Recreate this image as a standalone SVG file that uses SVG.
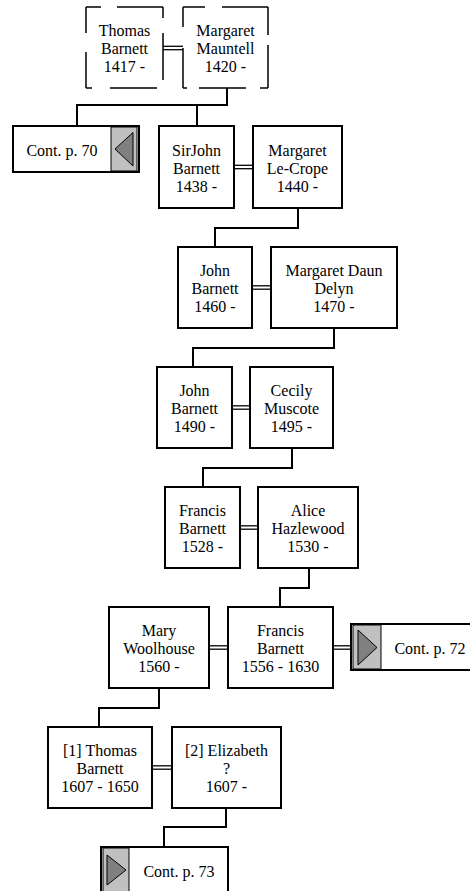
<svg xmlns="http://www.w3.org/2000/svg" width="470" height="891" viewBox="0 0 470 891">
<style>
.box{fill:#fff;stroke:#000;stroke-width:2}
.dash{fill:none;stroke:#000;stroke-width:1.5}
.t{font-family:"Liberation Serif","Times New Roman",serif;font-size:16px;fill:#000;text-anchor:middle}
.conn{fill:none;stroke:#000;stroke-width:2}
.dbl{stroke:#000;stroke-width:1.3}
.grey{fill:#c0c0c0;stroke:#000;stroke-width:1}
.tri{fill:#808080;stroke:#000;stroke-width:1}
</style>
<rect width="470" height="891" fill="#fff"/>
<g id="connectors">
<path class="conn" d="M227,88V105H77V126M197,105V126"/>
<path class="conn" d="M298,208V228H215V247"/>
<path class="conn" d="M334,328V348H193V367"/>
<path class="conn" d="M292,448V468H203V487"/>
<path class="conn" d="M309,568V588H280V607"/>
<path class="conn" d="M159,688V708H99V727"/>
<path class="conn" d="M226,808V827H164V847"/>
<g class="dbl">
<line x1="163" y1="46.3" x2="183" y2="46.3"/><line x1="163" y1="49.7" x2="183" y2="49.7"/>
<line x1="234" y1="165.3" x2="253" y2="165.3"/><line x1="234" y1="168.7" x2="253" y2="168.7"/>
<line x1="252" y1="285.8" x2="271" y2="285.8"/><line x1="252" y1="289.2" x2="271" y2="289.2"/>
<line x1="232" y1="405.8" x2="250" y2="405.8"/><line x1="232" y1="409.2" x2="250" y2="409.2"/>
<line x1="240" y1="525.8" x2="258" y2="525.8"/><line x1="240" y1="529.2" x2="258" y2="529.2"/>
<line x1="209" y1="645.8" x2="228" y2="645.8"/><line x1="209" y1="649.2" x2="228" y2="649.2"/>
<line x1="333" y1="645.8" x2="351" y2="645.8"/><line x1="333" y1="649.2" x2="351" y2="649.2"/>
<line x1="152" y1="765.8" x2="172" y2="765.8"/><line x1="152" y1="769.2" x2="172" y2="769.2"/>
</g>
</g>
<g id="thomas1417">
<path class="dash" d="M86,7H101M117,7H163M163,7V18M163,33V80M86,88H92M110,88H157M86,7V33M86,52V88"/>
<text class="t" x="124.5" y="36">Thomas</text><text class="t" x="124.5" y="54">Barnett</text><text class="t" x="124.5" y="72">1417 -</text>
</g>
<g id="margaret1420">
<path class="dash" d="M183,7H205M222,7H268M268,7V35M268,45V88M183,88H187M199,88H246M260,88H268M183,7V27M183,48V88"/>
<text class="t" x="225.5" y="36">Margaret</text><text class="t" x="225.5" y="54">Mauntell</text><text class="t" x="225.5" y="72">1420 -</text>
</g>
<g id="cont70">
<rect class="box" x="13" y="126" width="126" height="46"/>
<rect class="grey" x="111" y="127" width="26" height="44"/>
<polygon class="tri" points="115,149 133,132.5 133,166"/>
<text class="t" x="62" y="155.5">Cont. p. 70</text>
</g>
<g id="sirjohn1438">
<rect class="box" x="159" y="126" width="75" height="82"/>
<text class="t" x="196.5" y="155.5">SirJohn</text><text class="t" x="196.5" y="173.5">Barnett</text><text class="t" x="196.5" y="191.5">1438 -</text>
</g>
<g id="margaret1440">
<rect class="box" x="253" y="126" width="89" height="82"/>
<text class="t" x="297.5" y="155.5">Margaret</text><text class="t" x="297.5" y="173.5">Le-Crope</text><text class="t" x="297.5" y="191.5">1440 -</text>
</g>
<g id="john1460">
<rect class="box" x="178" y="247" width="74" height="81"/>
<text class="t" x="215" y="276">John</text><text class="t" x="215" y="294">Barnett</text><text class="t" x="215" y="312">1460 -</text>
</g>
<g id="margaret1470">
<rect class="box" x="271" y="247" width="126" height="81"/>
<text class="t" x="334" y="276">Margaret Daun</text><text class="t" x="334" y="294">Delyn</text><text class="t" x="334" y="312">1470 -</text>
</g>
<g id="john1490">
<rect class="box" x="157" y="367" width="75" height="81"/>
<text class="t" x="194.5" y="396">John</text><text class="t" x="194.5" y="414">Barnett</text><text class="t" x="194.5" y="432">1490 -</text>
</g>
<g id="cecily1495">
<rect class="box" x="250" y="367" width="83" height="81"/>
<text class="t" x="291.5" y="396">Cecily</text><text class="t" x="291.5" y="414">Muscote</text><text class="t" x="291.5" y="432">1495 -</text>
</g>
<g id="francis1528">
<rect class="box" x="165" y="487" width="75" height="81"/>
<text class="t" x="202.5" y="516">Francis</text><text class="t" x="202.5" y="534">Barnett</text><text class="t" x="202.5" y="552">1528 -</text>
</g>
<g id="alice1530">
<rect class="box" x="258" y="487" width="100" height="81"/>
<text class="t" x="308" y="516">Alice</text><text class="t" x="308" y="534">Hazlewood</text><text class="t" x="308" y="552">1530 -</text>
</g>
<g id="mary1560">
<rect class="box" x="109" y="607" width="100" height="81"/>
<text class="t" x="159" y="636">Mary</text><text class="t" x="159" y="654">Woolhouse</text><text class="t" x="159" y="672">1560 -</text>
</g>
<g id="francis1556">
<rect class="box" x="228" y="607" width="105" height="81"/>
<text class="t" x="280.5" y="636">Francis</text><text class="t" x="280.5" y="654">Barnett</text><text class="t" x="280.5" y="672">1556 - 1630</text>
</g>
<g id="cont72">
<rect class="box" x="351" y="624" width="127" height="46"/>
<rect class="grey" x="353" y="625" width="28" height="44"/>
<polygon class="tri" points="358,630 377,647.5 358,665"/>
<text class="t" x="430" y="653.5">Cont. p. 72</text>
</g>
<g id="thomas1607">
<rect class="box" x="48" y="727" width="104" height="81"/>
<text class="t" x="100" y="756">[1] Thomas</text><text class="t" x="100" y="774">Barnett</text><text class="t" x="100" y="792">1607 - 1650</text>
</g>
<g id="elizabeth1607">
<rect class="box" x="172" y="727" width="109" height="81"/>
<text class="t" x="226.5" y="756">[2] Elizabeth</text><text class="t" x="226.5" y="774">?</text><text class="t" x="226.5" y="792">1607 -</text>
</g>
<g id="cont73">
<rect class="box" x="101" y="847" width="127" height="46"/>
<rect class="grey" x="103" y="848" width="26" height="44"/>
<polygon class="tri" points="107,855 126,870 107,885"/>
<text class="t" x="179" y="876.5">Cont. p. 73</text>
</g>
</svg>
